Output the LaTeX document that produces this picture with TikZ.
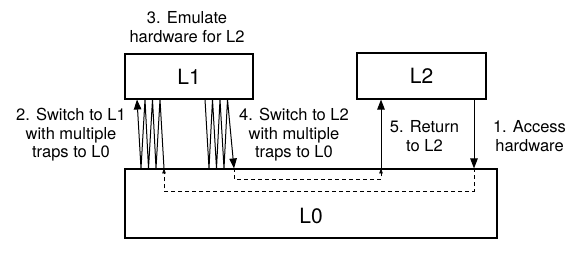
\documentclass[tikz,border=0pt]{standalone}
\usepackage{fontspec}
\setmainfont{TeX Gyre Heros}
\usetikzlibrary{arrows.meta,shadows}

\tikzset{
every picture/.style={
line width=1pt
}}
\tikzset{
  level/.style={draw, line width=1.1pt, fill=white, inner sep=0pt,
    drop shadow={shadow xshift=1pt, shadow yshift=-1pt, opacity=0.3},
    font=\fontsize{21}{24}\selectfont},
  note/.style={align=center, font=\fontsize{16.5}{18.5}\selectfont},
  bigtip/.style={-{Triangle[length=10pt,width=7.5pt]}},
  smalltip/.style={dash pattern=on 4pt off 3pt, line width=0.8pt,
    -{Triangle[length=5pt,width=3.5pt]}}
}

\begin{document}
\begin{tikzpicture}[x=1pt, y=-1pt]
  \useasboundingbox (0,0) rectangle (583,253);

  % the three levels
  \node (l1) [level, minimum width=128, minimum height=45] at (189,76.5) {L1};
  \node (l2) [level, minimum width=129, minimum height=46] at (421.5,76) {L2};
  \node (l0) [level, minimum width=372, minimum height=69,
    label={[yshift=-13pt, font=\fontsize{21}{24}\selectfont]center:L0}] at (311,203.5) {};

  % step texts
  \node (emu) [note] at (187,27) {3. Emulate\\hardware for L2};
  \node (sw1) [note] at (71,135) {2. Switch to L1\\with multiple\\traps to L0};
  \node (sw2) [note] at (294,135) {4. Switch to L2\\with multiple\\traps to L0};
  \node (ret) [note] at (424.5,136) {5. Return\\to L2};
  \node (acc) [note] at (529.5,136) {1. Access\\hardware};

  % where the arrows meet L0
  \coordinate (hw) at (l0.north -| 474,0);
  \coordinate (in1) at (l0.north -| 164,0);
  \coordinate (out1) at (l0.north -| 234,0);
  \coordinate (back) at (l0.north -| 381,0);

  \draw [bigtip] (l2.south -| hw) -- (hw);
  \draw [bigtip] (back) -- (l2.south -| back);

  \draw [smalltip] (hw) -- ++(0,23) -| (in1);
  \draw [smalltip] (out1) -- ++(0,11) -| (back);

  % traps up into L1
  \draw [bigtip] (in1)
    \foreach \xt/\xb in {160/156, 152.5/148.5, 145/141} { -- (l1.south -| \xt,0) -- (l0.north -| \xb,0) }
    -- (l1.south -| 137,0);

  % traps back down from L1
  \draw [bigtip] (l1.south -| 205,0)
    \foreach \xb/\xt in {209/212.5, 216.5/220, 224/227.5} { -- (l0.north -| \xb,0) -- (l1.south -| \xt,0) }
    -- (out1);

\end{tikzpicture}
\end{document}
